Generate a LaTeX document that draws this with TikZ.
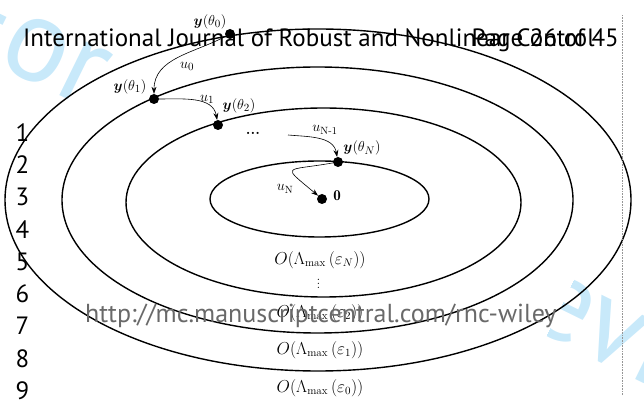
\documentclass[tikz,border=0pt]{standalone}
\usepackage{fontspec}
\usepackage{amsmath}
\setsansfont{PT Sans}
\usetikzlibrary{arrows.meta}
\definecolor{sky}{RGB}{200,233,250}
\definecolor{urlgray}{RGB}{105,105,105}
\definecolor{edgegray}{RGB}{150,150,150}

\begin{document}
\begin{tikzpicture}[x=1pt, y=1pt,
  ring/.style={line width=1.4pt},
  dot/.style={circle, fill, inner sep=0pt, minimum size=10pt},
  flow/.style={-{Stealth[length=7pt, width=5pt]}, line width=0.6pt},
  lab/.style={font=\fontsize{15}{17}\selectfont, inner sep=0pt},
  bound/.style={font=\fontsize{16}{18}\selectfont, inner sep=0pt},
  page/.style={font=\sffamily\fontsize{25}{30}\selectfont, inner sep=0pt}]
  \useasboundingbox (0,0) rectangle (644,401);

  % watermark, only the corners show
  \begin{scope}
    \clip (0,250) rectangle (140,401) (514,0) -- (712,401) -- (800,401) -- (800,0) -- cycle;
    \node[sky, font=\sffamily\fontsize{120}{120}\selectfont, rotate=-26.2, anchor=base west, inner sep=0pt]
      at (-61.7,365.3) {For\hspace{92pt}Peer\hspace{101pt}Review};
  \end{scope}

  % level sets
  \foreach \cx/\cy/\rx/\ry in {318/201/313/171, 317.5/201/255.5/133,
                               323.5/198.5/197.5/94.5, 319.5/202/109.5/38}
    \draw[ring] (\cx,\cy) ellipse [x radius=\rx, y radius=\ry];

  % states
  \node[dot] (y0) at (230,367) {};
  \node[dot] (y1) at (154,302) {};
  \node[dot] (y2) at (218,276) {};
  \node[dot] (yN) at (338,239) {};
  \node[dot] (org) at (322,202) {};
  \coordinate (uNs) at (288,266);

  \draw[flow] (y0) to[out=208, in=90] (y1);
  \draw[flow] (y1) to[out=0, in=100] (y2);
  \draw[flow] (uNs) to[out=-5, in=100] (yN);
  \draw[flow] (yN) to[out=190, in=140, looseness=3.5] (org);

  \node[lab] (ly0) at (210,379) {$\boldsymbol{y}(\theta_0)$};
  \node[lab] (ly1) at (130,314) {$\boldsymbol{y}(\theta_1)$};
  \node[lab] (ly2) at (239,295) {$\boldsymbol{y}(\theta_2)$};
  \node[lab] (lyN) at (362,253) {$\boldsymbol{y}(\theta_N)$};
  \node[lab] (lorg) at (337,205) {$\mathbf{0}$};
  \node[lab] (lu0) at (187,335) {$u_0$};
  \node[lab] (lu1) at (207,302) {$u_1$};
  \node[lab] (luM) at (325,271) {$u_{\text{N-1}}$};
  \node[lab] (luN) at (285,212) {$u_{\text{N}}$};
  \node[lab] (skip) at (253,268) {\textbf{...}};

  % bounds
  \foreach \y/\e in {141/N, 88/2, 51/1, 13/0}
    \node[bound] at (320,\y) {$O(\Lambda_{\max}\,(\varepsilon_{\e}))$};
  \node[lab] (vd) at (318.5,120) {$\vdots$};

  % page furniture
  \node[page, anchor=base west] (head) at (23,354)
    {International Journal of Robust and Nonlinear Control};
  \node[page, anchor=base east] (pno) at (619,354) {Page 26 of 45};
  \foreach \n in {1,...,9}
    \node[page, anchor=base] at (22.5,291.75-32.25*\n) {\n};
  \node[page, urlgray, font=\sffamily\fontsize{26}{30}\selectfont, anchor=base west] (url) at (85,78)
    {http://mc.manuscriptcentral.com/rnc-wiley};
  \draw[edgegray, line width=0.8pt, dash pattern=on 0.8pt off 0.8pt] (622,6) -- (622,386);
\end{tikzpicture}
\end{document}
